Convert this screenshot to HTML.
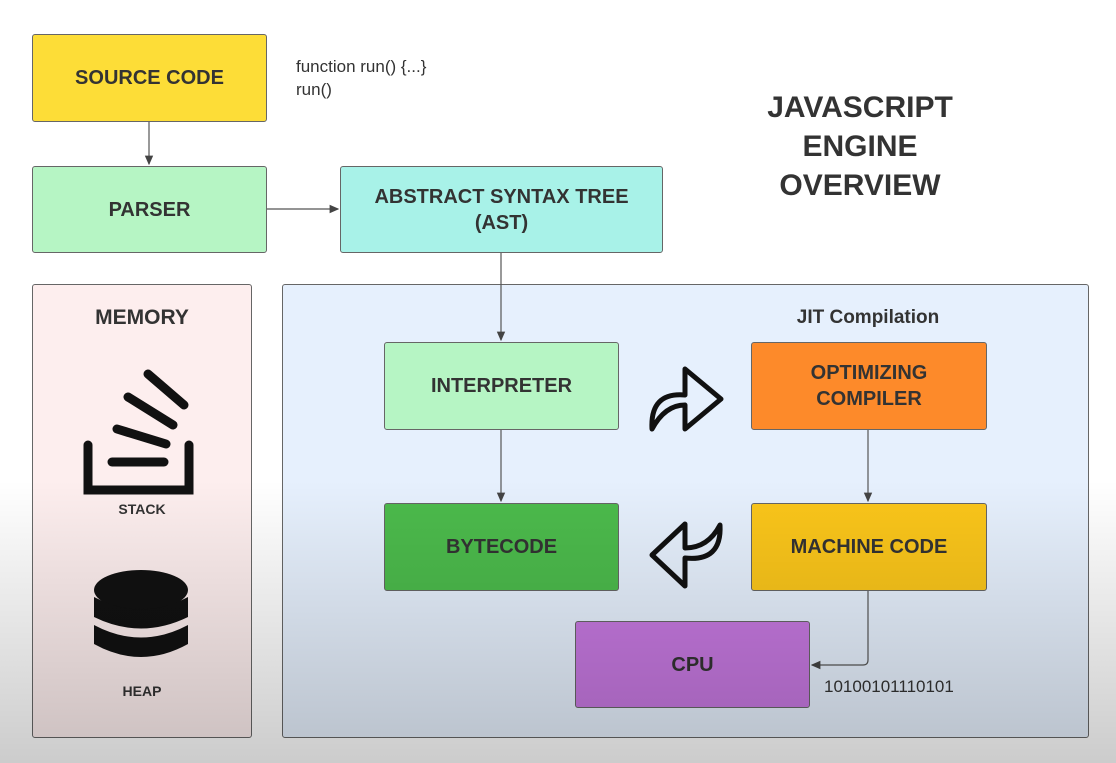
<!DOCTYPE html>
<html><head><style>
body{margin:0;width:1116px;height:763px;position:relative;background:#fff;font-family:"Liberation Sans",sans-serif;overflow:hidden}
.b{position:absolute;box-sizing:border-box;border:1px solid #666;border-radius:3px;display:flex;align-items:center;justify-content:center;text-align:center;font-weight:bold;font-size:20px;color:#333;line-height:26px}
.t{position:absolute;color:#333}
</style></head><body>
<div class="b" style="left:32px;top:34px;width:235px;height:88px;background:#fddd37">SOURCE CODE</div>
<div class="t" style="left:296px;top:55px;font-size:17px;line-height:23px">function run() {...}<br>run()</div>
<div class="b" style="left:32px;top:166px;width:235px;height:87px;background:#b6f5c4">PARSER</div>
<div class="b" style="left:340px;top:166px;width:323px;height:87px;background:#a8f2e8">ABSTRACT SYNTAX TREE<br>(AST)</div>
<div class="t" style="left:720px;top:88px;width:280px;text-align:center;font-size:30px;font-weight:bold;line-height:39px">JAVASCRIPT<br>ENGINE<br>OVERVIEW</div>
<div class="b" style="left:32px;top:284px;width:220px;height:454px;background:#fdeeee;align-items:flex-start"></div>
<div class="t" style="left:32px;top:306px;width:220px;text-align:center;font-weight:bold;font-size:21px">MEMORY</div>
<div class="t" style="left:32px;top:501px;width:220px;text-align:center;font-weight:bold;font-size:14px">STACK</div>
<div class="t" style="left:32px;top:683px;width:220px;text-align:center;font-weight:bold;font-size:14px">HEAP</div>
<div class="b" style="left:282px;top:284px;width:807px;height:454px;background:#e6f0fd"></div>
<div class="t" style="left:740px;top:307px;width:256px;text-align:center;font-weight:bold;font-size:19px">JIT Compilation</div>
<div class="b" style="left:384px;top:342px;width:235px;height:88px;background:#b6f5c4">INTERPRETER</div>
<div class="b" style="left:751px;top:342px;width:236px;height:88px;background:#fd8a2a">OPTIMIZING<br>COMPILER</div>
<div class="b" style="left:384px;top:503px;width:235px;height:88px;background:#4cbb4c">BYTECODE</div>
<div class="b" style="left:751px;top:503px;width:236px;height:88px;background:#fbc61a">MACHINE CODE</div>
<div class="b" style="left:575px;top:621px;width:235px;height:87px;background:#c678e0">CPU</div>
<div class="t" style="left:824px;top:677px;font-size:17px">10100101110101</div>
<svg width="1116" height="763" style="position:absolute;left:0;top:0">
<defs><marker id="a" markerWidth="8" markerHeight="8" refX="7" refY="4" orient="auto"><path d="M0,0.5L8,4L0,7.5z" fill="#444"/></marker></defs>
<g stroke="#555" stroke-width="1.2" fill="none" marker-end="url(#a)">
<path d="M149 122V164"/><path d="M267 209H338"/><path d="M501 253V340"/><path d="M501 430V501"/><path d="M868 430V501"/><path d="M868 591V660Q868 665 863 665H812"/>
</g>
<g stroke="#111" stroke-width="5" fill="none" stroke-linejoin="round">
<path d="M652 429Q650 392 685 395V369L721 399L685 429V405Q665 405 652 429Z"/>
<path d="M720 525Q722 562 685 558V586L652 555L685 524V548Q708 548 720 525Z"/>
</g>
<g stroke="#111" stroke-width="9" stroke-linecap="round" fill="none">
<path d="M88 445V490H189V445"/><path d="M112 462H164"/><path d="M117 429L166 444"/><path d="M128 397L173 425"/><path d="M148 374L184 405"/>
</g>
<g fill="#111">
<ellipse cx="141" cy="590" rx="47" ry="20"/>
<path d="M94 597Q141 622 188 597V617Q141 640 94 617Z"/>
<path d="M94 625Q141 650 188 625V644Q141 670 94 644Z"/>
</g>
</svg>
<div style="position:absolute;left:0;top:480px;width:1116px;height:283px;background:linear-gradient(rgba(0,0,0,0),rgba(0,0,0,0.2));pointer-events:none"></div>
</body></html>
